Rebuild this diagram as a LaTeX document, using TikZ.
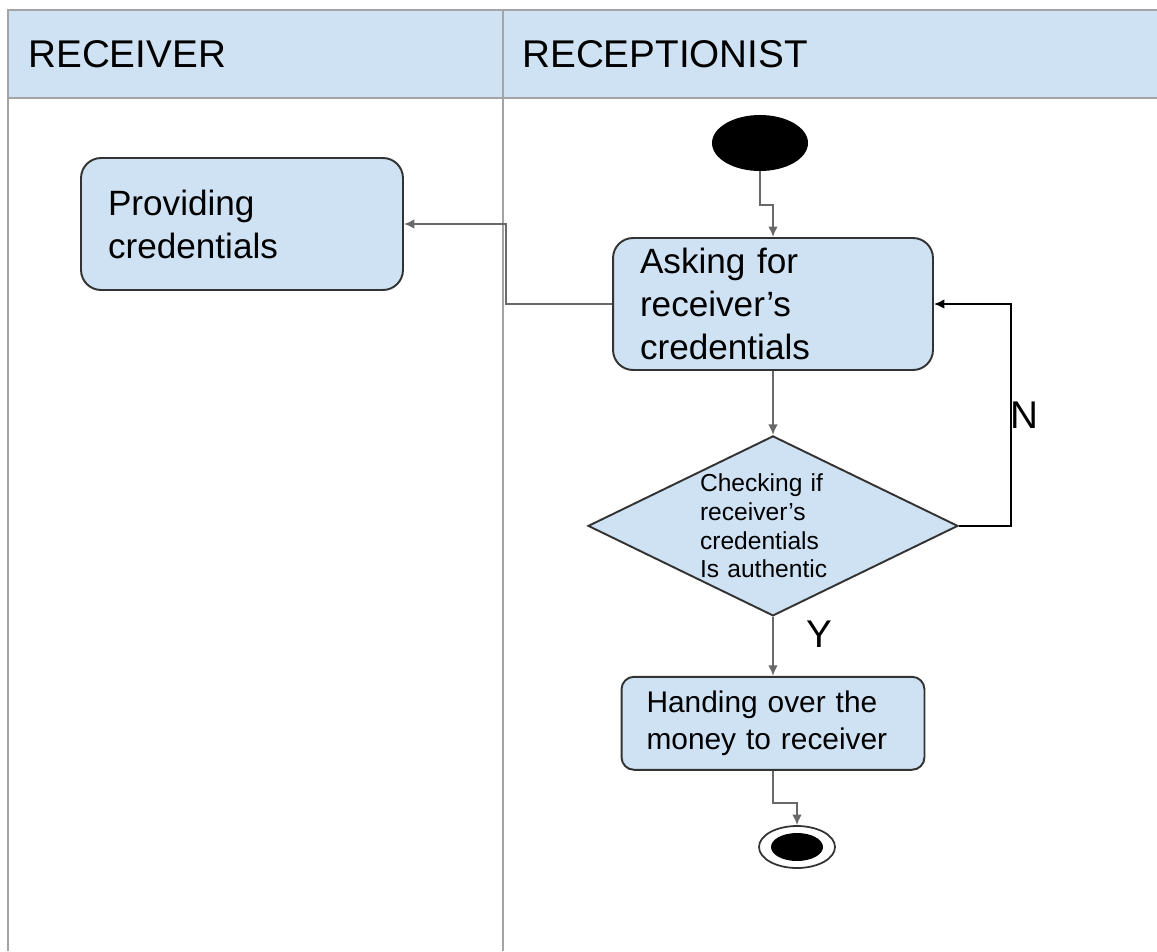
\documentclass[tikz,border=0pt]{standalone}
\usepackage{fontspec}
\setmainfont{Liberation Sans}
\usetikzlibrary{arrows.meta,shapes.geometric,positioning}
\definecolor{lane}{HTML}{CFE2F3}
\definecolor{rulegray}{HTML}{A4A4A4}
\definecolor{linegray}{HTML}{333333}
\definecolor{flowgray}{HTML}{696969}

\begin{document}
\begin{tikzpicture}[x=0.02cm,y=-0.02cm,
  act/.style={draw=linegray,line width=1.1pt,fill=lane,rounded corners=0.4cm,
    align=left,inner sep=0pt,font=\fontsize{20}{24.4}\selectfont},
  decision/.style={diamond,draw=linegray,line width=1.1pt,fill=lane,inner sep=0pt,
    aspect=2,align=left,text width=2.92cm,minimum width=7.4cm,minimum height=3.6cm,
    font=\fontsize{14}{16.4}\selectfont},
  initial/.style={ellipse,fill=black,minimum width=1.92cm,minimum height=1.12cm,inner sep=0pt},
  final/.style={ellipse,draw=linegray,line width=1pt,fill=white,minimum width=1.52cm,
    minimum height=0.84cm,inner sep=0pt},
  finaldot/.style={ellipse,fill=black,minimum width=1.04cm,minimum height=0.56cm,inner sep=0pt},
  flow/.style={draw=flowgray,line width=1pt,-{Latex[length=6pt,width=5.5pt]}},
  lanehead/.style={anchor=west,inner sep=0pt,font=\fontsize{22}{26}\selectfont},
  guard/.style={font=\fontsize{22}{26}\selectfont}]

\useasboundingbox (0,0) rectangle (1157,951);

% swimlanes
\fill[lane] (8,10) rectangle (1157,98);
\draw[rulegray,line width=1.1pt] (1157,10) -- (8,10) -- (8,951);
\draw[rulegray,line width=1.1pt] (8,98) -- (1157,98);
\draw[rulegray,line width=1.1pt] (503,10) -- (503,951);
\node[lanehead] (rcv) at (28,54) {RECEIVER};
\node[lanehead] (rcp) at (522,54) {RECEPTIONIST};

% activities
\node[initial] (start) at (760,143) {};
\node[act,minimum width=6.4cm,minimum height=2.64cm,text width=5.32cm] (ask) at (773,304)
  {Asking for\\receiver’s\\credentials};
\node[act,minimum width=6.44cm,minimum height=2.64cm,text width=5.36cm] (prov) at (242,224)
  {Providing\\credentials};
\node[decision] (dec) [below=1.28cm of ask]
  {Checking if\\receiver’s\\credentials\\Is authentic};
\node[act,rounded corners=0.25cm,minimum width=6.06cm,minimum height=1.86cm,text width=5.06cm,
  font=\fontsize{17}{21.5}\selectfont] (hand) [below=1.18cm of dec]
  {Handing over the\\money to receiver};
\node[final] (end) at (797,847) {};
\node[finaldot] (enddot) at (end) {};

% control flow
\draw[flow] (start.south) -- ++(0,34) -| (ask.north);
\draw[flow] (ask.west) -- ++(-106,0) |- (prov.east);
\draw[flow] (ask.south) -- (dec.north);
\draw[flow,draw=black] (dec.east) -- ++(52,0) |- node[pos=0.25,right=-4pt,guard] {N} (ask.east);
\draw[flow] (dec.south) -- node[pos=0.3,right=15pt,guard] {Y} (hand.north);
\draw[flow] (hand.south) -- ++(0,32) -| (end.north);
\end{tikzpicture}
\end{document}
